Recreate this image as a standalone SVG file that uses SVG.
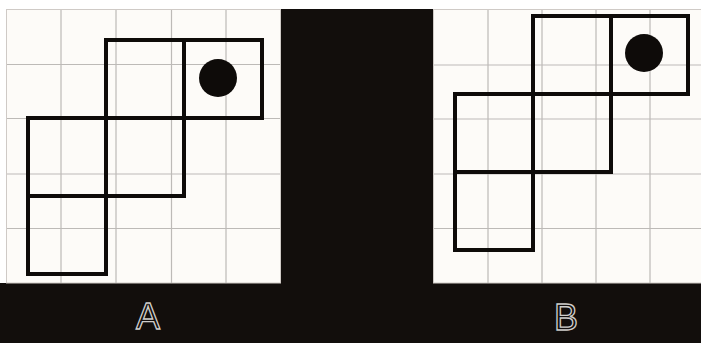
<svg xmlns="http://www.w3.org/2000/svg" width="701" height="343" viewBox="0 0 701 343">
<style>
.panel{fill:#fdfbf8;stroke:#cfcac6;stroke-width:1}
.grid{stroke:#bdbab7;stroke-width:1.2;fill:none}
.sq{fill:none;stroke:#0e0b09;stroke-width:4;stroke-linejoin:miter}
.dot{fill:#0e0b09}
.lbl{font-family:"Liberation Sans",Arial,sans-serif;font-size:36px;fill:none;stroke:#cfcdcb;stroke-width:1.3;text-anchor:middle}
</style>
<rect x="0" y="0" width="701" height="343" fill="#ffffff"/>
<rect x="281" y="9" width="152" height="334" fill="#120e0c"/>
<rect x="0" y="283" width="701" height="60" fill="#120e0c"/>
<g id="panelA">
<rect class="panel" x="6.5" y="9.5" width="274" height="273.5"/>
<path class="grid" d="M61 10V283M116 10V283M171.5 10V283M226 10V283M7 64.5H280M7 118.5H280M7 174H280M7 228.5H280"/>
<path class="sq" d="M106 40H262V118H184V196H106V274H28V118H106Z"/>
<path class="sq" d="M184 40V118H106V196H28"/>
<circle class="dot" cx="218" cy="78" r="19"/>
<text class="lbl" x="148" y="329">A</text>
</g>
<g id="panelB">
<rect class="panel" x="433.5" y="9.5" width="268" height="273.5"/>
<path class="grid" d="M488 10V283M542 10V283M596 10V283M650 10V283M434 65H701M434 119H701M434 174H701M434 228.5H701"/>
<path class="sq" d="M533 16H688V94H611V172H533V250H455V94H533Z"/>
<path class="sq" d="M611 16V94H533V172H455"/>
<circle class="dot" cx="644" cy="53" r="19"/>
<text class="lbl" x="566" y="330">B</text>
</g>
</svg>
